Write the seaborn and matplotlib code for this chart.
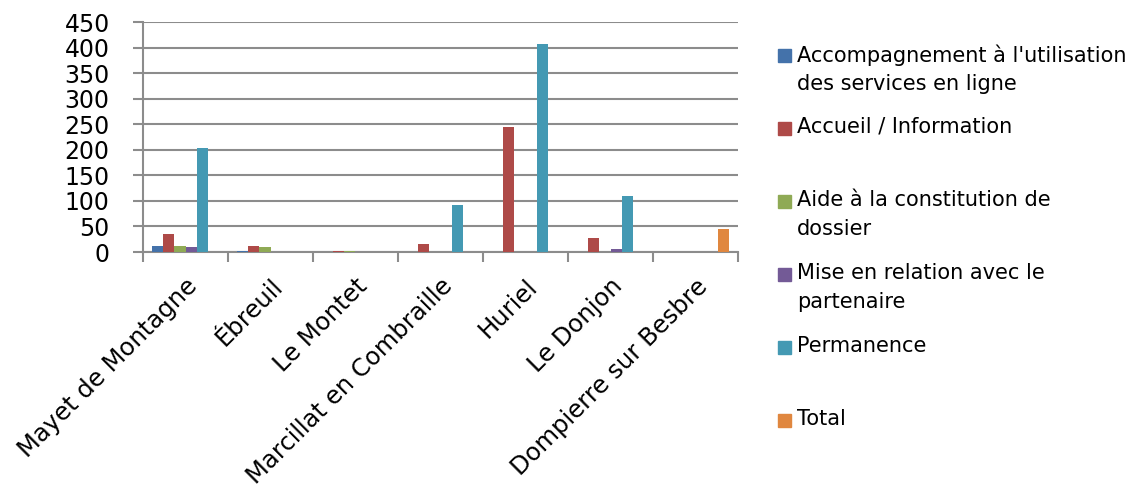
import numpy as np
import pandas as pd
import matplotlib
matplotlib.use("Agg")
import matplotlib.pyplot as plt
import seaborn as sns
from matplotlib.patches import Rectangle

# data
sites = ["Mayet de Montagne", "Ébreuil", "Le Montet", "Marcillat en Combraille",
         "Huriel", "Le Donjon", "Dompierre sur Besbre"]
series = ["Accompagnement à l'utilisation\ndes services en ligne",
          "Accueil / Information",
          "Aide à la constitution de\ndossier",
          "Mise en relation avec le\npartenaire",
          "Permanence",
          "Total"]
accompagnement = [12, 2, 0, 0, 0, 0, 0]
accueil = [35, 12, 1, 16, 245, 28, 0]
aide = [12, 10, 1, 0, 0, 0, 0]
mise_en_relation = [10, 0, 0, 0, 0, 6, 0]
permanence = [203, 0, 0, 91, 406, 110, 0]
total = [0, 0, 0, 0, 0, 0, 45]
colors = ["#4472AA", "#AE4A48", "#8FAA55", "#735A96", "#4499B3", "#E0873F"]

values = [accompagnement, accueil, aide, mise_en_relation, permanence, total]
df = pd.DataFrame([
    {"site": s, "type": name, "n": v}
    for name, vals in zip(series, values)
    for s, v in zip(sites, vals)
])

sns.set_style("white")
plt.rcParams['font.family'] = ['DejaVu Sans']
plt.rcParams['text.color'] = 'black'

W, H = 1142, 491
fig = plt.figure(figsize=(W / 100, H / 100), dpi=100)
ax = fig.add_axes([143 / W, 1 - 252 / H, (738 - 143) / W, (252 - 22) / H])

sns.barplot(data=df, x="site", y="n", hue="type", hue_order=series,
            palette=colors, width=0.8, saturation=1, edgecolor="none",
            legend=False, ax=ax, zorder=3)

grid_c = "#8C8C8C"
ax.set_ylim(0, 450)
ax.set_xlim(-0.5, len(sites) - 0.5)
ax.set_yticks(np.arange(0, 451, 50))
ax.yaxis.grid(True, color=grid_c, linewidth=1.5, zorder=0)
ax.set_xlabel("")
ax.set_ylabel("")
for side in ["top", "right"]:
    ax.spines[side].set_visible(False)
for side in ["left", "bottom"]:
    ax.spines[side].set_color(grid_c)
    ax.spines[side].set_linewidth(1.5)

ax.tick_params(axis="y", labelsize=17, length=7, width=1.5, color=grid_c,
               labelcolor="black", pad=17, left=True)
ax.set_xticks(np.arange(len(sites)))
ax.set_xticklabels(sites, rotation=45, ha="right", rotation_mode="anchor",
                   fontsize=17.5, color="black")
ax.tick_params(axis="x", which="major", length=0, pad=16)
ax.set_xticks(np.arange(len(sites) + 1) - 0.5, minor=True)
ax.tick_params(axis="x", which="minor", length=7, width=1.5, color=grid_c,
               bottom=True)

# legend on the right, entries evenly spaced like the original
for i, (name, c) in enumerate(zip(series, colors)):
    top = 49 + 73 * i
    fig.patches.append(Rectangle((778 / W, 1 - (top + 13) / H), 13 / W, 13 / H,
                                 transform=fig.transFigure, color=c))
    fig.text(797 / W, 1 - (top - 5) / H, name, fontsize=15, va="top",
             ha="left", linespacing=1.55, color="black")

fig.savefig("out.png", dpi=100)
